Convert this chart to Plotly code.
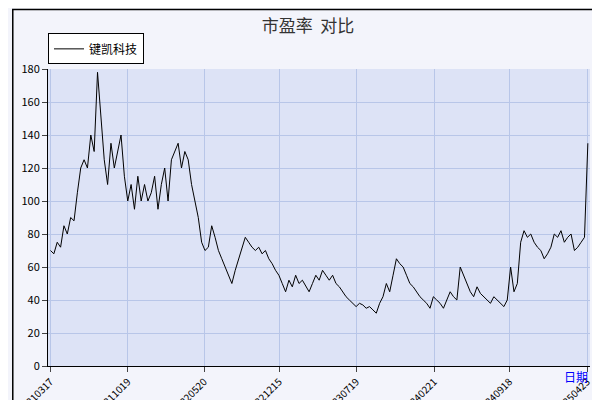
import plotly.graph_objects as go
import pandas as pd

values = [70,68,75,72,85,80,90,88,105,120,125,120,140,130,178,150,125,110,135,120,130,140,115,
          100,110,95,115,100,110,100,105,115,95,110,120,100,125,130,135,120,130,125,110,100,
          90,75,70,72,85,78,70,65,60,55,50,58,65,72,78,75,72,70,72,68,70,65,62,58,55,
          50,45,52,48,55,50,52,48,45,50,55,52,58,55,52,55,50,48,45,42,40,38,36,38,37,35,36,
          34,32,38,42,50,45,55,65,62,60,55,50,48,45,42,40,38,35,42,40,38,35,40,45,42,40,
          60,55,50,45,42,48,44,42,40,38,42,40,38,36,40,60,45,50,75,82,78,80,75,72,70,65,68,
          72,80,78,82,75,78,80,70,72,75,78,135]
dates = pd.date_range("2021-03-17", "2025-04-25", periods=len(values))
tick_vals = ["2021-03-17","2021-10-19","2022-05-20","2022-12-15","2023-07-19","2024-02-21","2024-09-18","2025-04-23"]
tick_text = ["20210317","20211019","20220520","20221215","20230719","20240221","20240918","20250423"]

fig = go.Figure(go.Scatter(x=dates, y=values, mode="lines", name="键凯科技",
                           line=dict(color="black", width=1)))
fig.update_layout(
    width=600, height=400, paper_bgcolor="#F3F4FB", plot_bgcolor="#DDE3F6",
    margin=dict(l=40, r=18, t=61, b=42),
    title=dict(text="市盈率  对比", x=0.5, y=0.97, xanchor="center", font=dict(size=17, color="#333")),
    font=dict(family="Noto Sans CJK SC", size=11, color="black"),
    showlegend=True,
    legend=dict(x=0.0, y=1.12, xanchor="left", yanchor="top", bgcolor="white",
                bordercolor="black", borderwidth=1, font=dict(size=12)),
    xaxis=dict(tickvals=tick_vals, ticktext=tick_text, tickangle=-45, showgrid=True,
               gridcolor="#B8C6E8", showline=True, linecolor="black", ticks="outside",
               range=["2021-03-10","2025-05-01"], tickfont=dict(size=10), automargin=False),
    yaxis=dict(range=[0,180], dtick=20, showgrid=True, gridcolor="#B8C6E8", automargin=False,
               showline=True, linecolor="black", ticks="outside", zeroline=False),
)
fig.add_shape(type="rect", xref="paper", yref="paper", x0=-0.065, x1=1.03, y0=-0.14, y1=1.2,
              line=dict(color="black", width=1.5))
fig.add_annotation(text="日期", xref="paper", yref="paper", x=1.0, y=-0.07, showarrow=False,
                   font=dict(color="blue", size=12), xanchor="right")
fig.write_html("out.html")
